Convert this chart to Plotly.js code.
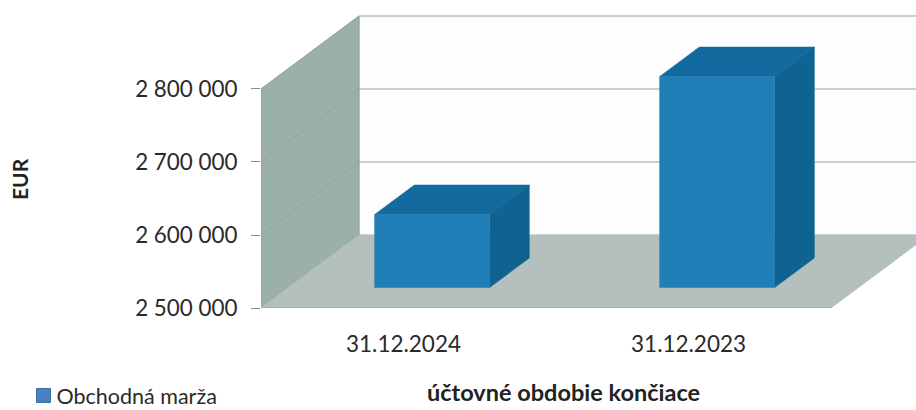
<!DOCTYPE html>
<html><head><meta charset="utf-8">
<script src="https://cdn.plot.ly/plotly-3.0.1.min.js"></script>
<style>html,body{margin:0;padding:0;background:#fff;overflow:hidden}</style>
</head><body><div id="chart" style="width:916px;height:410px"></div>
<script>
// Data
const categories = ["31.12.2024", "31.12.2023"];
const seriesName = "Obchodná marža";
const values = [2600000, 2789000];
const tickValues = [2500000, 2600000, 2700000, 2800000];
const tickLabels = ["2 500 000", "2 600 000", "2 700 000", "2 800 000"];
const yTop = 2800000;
const yBase = 2500000;

// Oblique projection of the 3D box, in axis units
const depthX = 0.344, depthY = 100000;   // full depth of the chart floor
const barWidth = 0.4035;
const barOffset = 0.004;
const barFront = 0.28, barBack = 0.685;  // bar's depth extent as share of the floor depth
const nCat = categories.length;
const p = (x, y, d) => [x + depthX * d, y + depthY * d];

const traces = [];
function poly(pts, color, line, lw) {
  traces.push({x: pts.map(q => q[0]), y: pts.map(q => q[1]), type: "scatter", mode: "lines",
    fill: "toself", fillcolor: color, line: {color: line || color, width: lw === undefined ? 0.5 : lw},
    hoverinfo: "skip", showlegend: false});
}
function seg(pts, color, w) {
  traces.push({x: pts.map(q => q[0]), y: pts.map(q => q[1]), type: "scatter", mode: "lines",
    line: {color, width: w}, hoverinfo: "skip", showlegend: false});
}

// Back wall, side wall, floor
poly([p(0,yBase,1), p(nCat,yBase,1), p(nCat,yTop,1), p(0,yTop,1), p(0,yBase,1)], "#fdfdfd", "#c4c4c4", 1);
poly([p(0,yBase,0), p(0,yBase,1), p(0,yTop,1), p(0,yTop,0), p(0,yBase,0)], "#9bafab", "#8a9a97", 0.7);
poly([p(0,yBase,0), p(nCat,yBase,0), p(nCat,yBase,1), p(0,yBase,1), p(0,yBase,0)], "#b4c0bd", "#b4c0bd", 0.7);
seg([p(0,yBase,0), p(nCat,yBase,0)], "#9a9a9a", 1.2);

// Gridlines
tickValues.slice(1).forEach(v => {
  seg([p(0,v,0), p(0,v,1)], "#92a5a1", 1);
  if (v < yTop) seg([p(0,v,1), p(nCat,v,1)], "#a0a0a0", 1.2);
});
seg([p(0,yTop,1), p(nCat,yTop,1)], "#b8b8b8", 1.2);

// Bars
values.forEach((v, i) => {
  const l = i + 0.5 + barOffset - barWidth / 2, r = l + barWidth;
  const f = barFront, b = barBack;
  poly([p(l,v,f), p(r,v,f), p(r,v,b), p(l,v,b), p(l,v,f)], "#136a9e");
  poly([p(r,yBase,f), p(r,yBase,b), p(r,v,b), p(r,v,f), p(r,yBase,f)], "#0f6390");
  poly([p(l,yBase,f), p(r,yBase,f), p(r,v,f), p(l,v,f), p(l,yBase,f)], "#1f7fb6");
});

// Legend entry
traces.push({x: [null], y: [null], type: "scatter", mode: "markers", name: seriesName,
  marker: {symbol: "square", size: 14, color: "#4a7fc1", line: {color: "#3d6ea8", width: 1}}, showlegend: true, hoverinfo: "skip"});

const font = "Lato, 'Open Sans', sans-serif";
const ink = "#2a2a2a";
const layout = {
  width: 916, height: 410,
  margin: {l: 261, r: 0, t: 0, b: 102, pad: 0},
  paper_bgcolor: "#ffffff", plot_bgcolor: "#ffffff",
  font: {family: font, size: 21, color: ink},
  xaxis: {range: [0, 2.298], tickmode: "array", tickvals: categories.map((c, i) => i + 0.5), ticktext: categories,
    showgrid: false, zeroline: false, showline: false, ticks: "outside", ticklen: 16, tickcolor: "rgba(0,0,0,0)", tickfont: {family: font, size: 22.5, color: ink}},
  yaxis: {range: [2500000, 2921900], tickmode: "array", tickvals: tickValues, ticktext: tickLabels,
    showgrid: false, zeroline: false, showline: false, ticks: "outside", ticklen: 9, tickcolor: "#8a8a8a", tickwidth: 1,
    ticklabelstandoff: 9, tickfont: {family: font, size: 22.4, color: ink}},
  showlegend: true,
  legend: {x: 0.018, xref: "container", y: 0.0, yref: "container", xanchor: "left", yanchor: "bottom",
    bgcolor: "rgba(0,0,0,0)", font: {family: font, size: 21.5, color: ink}, itemwidth: 30},
  annotations: [
    {text: "<b>účtovné obdobie končiace</b>", xref: "paper", yref: "paper", x: 0.4624, y: -0.2727, xanchor: "center", yanchor: "middle",
     showarrow: false, font: {family: font, size: 23.5, color: "#222"}},
    {text: "<b>EUR</b>", xref: "paper", yref: "paper", x: -0.3679, y: 0.419, xanchor: "center", yanchor: "middle", textangle: -90,
     showarrow: false, font: {family: font, size: 21, color: "#222"}}
  ]
};
Plotly.newPlot("chart", traces, layout, {displayModeBar: false, staticPlot: true}).then(gd => {
  // Nudge the legend into the page's bottom strip and its swatch closer to the label
  const lg = gd.querySelector(".legend");
  if (lg) {
    const m = /translate\(\s*([-\d.]+)[ ,]+([-\d.]+)/.exec(lg.getAttribute("transform") || "");
    if (m) lg.setAttribute("transform", "translate(" + (+m[1]) + "," + (+m[2] + 6) + ")");
    const pts = lg.querySelector(".legendpoints");
    if (pts) pts.setAttribute("transform", "translate(7,0)");
  }
});
</script></body></html>
